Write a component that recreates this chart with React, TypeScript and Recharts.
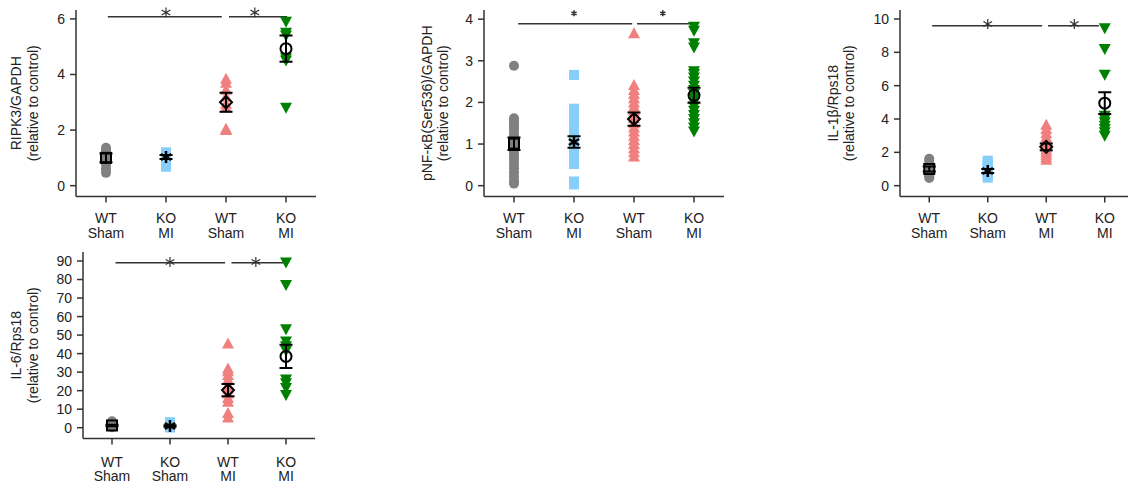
import React from "react"
import {
  ScatterChart,
  Scatter,
  XAxis,
  YAxis,
  ReferenceLine,
  ReferenceDot,
} from "recharts"

const FONT = "'Liberation Sans', Arial, sans-serif"
const INK = "#222"
const AXIS = "#333"

const GRAY  = "#808080"
const BLUE  = "#87CEFA"
const PINK  = "#F08080"
const GREEN = "#008000"

// ---------- RIPK3/GAPDH ----------
const ripk3Labels = [["WT", "Sham"], ["KO", "MI"], ["WT", "Sham"], ["KO", "MI"]]
const ripk3G1 = [1.36, 1.3, 1.2, 1.1, 1.0, 0.9, 0.75, 0.6, 0.46]
const ripk3G2 = [1.2, 1.12, 1.05, 1.0, 0.9, 0.8, 0.68]
const ripk3G3 = [3.85, 3.7, 3.45, 3.2, 2.95, 2.8, 2.05, 2.0]
const ripk3G4 = [5.9, 5.5, 5.4, 4.6, 4.5, 2.8]
const ripk3Mean = [1.0, 1.03, 3.0, 4.93]
const ripk3Sem  = [0.16, 0.07, 0.34, 0.47]
const ripk3Ticks = [0, 2, 4, 6]
const ripk3Sig = { y: 6.08, star: 6.23, a: [1.03, 2.93], b: [3.05, 4.02] }

// ---------- pNF-kB(Ser536)/GAPDH ----------
const nfkbLabels = [["WT", "Sham"], ["KO", "MI"], ["WT", "Sham"], ["KO", "MI"]]
const nfkbG1 = [2.88, 1.62, 1.55, 1.5, 1.42, 1.35, 1.25, 1.18, 1.1, 1.02, 0.95, 0.9, 0.82, 0.75, 0.68, 0.6, 0.5, 0.42, 0.32, 0.22, 0.12, 0.05]
const nfkbG2 = [2.66, 1.85, 1.78, 1.7, 1.62, 1.55, 1.48, 1.4, 1.3, 1.22, 1.12, 1.05, 0.98, 0.9, 0.82, 0.72, 0.62, 0.52, 0.1, 0.03]
const nfkbG3 = [3.66, 2.42, 2.3, 2.2, 2.1, 2.0, 1.9, 1.8, 1.7, 1.62, 1.5, 1.4, 1.3, 1.2, 1.1, 1.0, 0.9, 0.8, 0.7]
const nfkbG4 = [3.82, 3.72, 3.42, 3.32, 2.75, 2.68, 2.6, 2.5, 2.4, 2.3, 2.2, 2.1, 2.0, 1.9, 1.8, 1.7, 1.6, 1.5, 1.4, 1.3]
const nfkbMean = [1.01, 1.05, 1.6, 2.17]
const nfkbSem  = [0.15, 0.14, 0.16, 0.18]
const nfkbTicks = [0, 1, 2, 3, 4]
const nfkbSig = { y: 3.89, star: 4.14, a: [1.07, 2.97], b: [3.05, 3.93] }

// ---------- IL-1β/Rps18 ----------
const il1bLabels = [["WT", "Sham"], ["KO", "Sham"], ["WT", "MI"], ["KO", "MI"]]
const il1bG1 = [1.62, 1.5, 1.35, 1.2, 1.05, 0.95, 0.85, 0.75, 0.65, 0.55, 0.46]
const il1bG2 = [1.5, 1.4, 1.3, 1.2, 1.1, 1.0, 0.9, 0.8, 0.7, 0.6, 0.48]
const il1bG3 = [3.65, 3.4, 3.15, 2.9, 2.7, 2.5, 2.3, 2.15, 2.0, 1.85, 1.7, 1.55]
const il1bG4 = [9.45, 8.2, 6.65, 4.2, 4.0, 3.8, 3.6, 3.4, 3.2, 3.0]
const il1bMean = [1.0, 0.88, 2.33, 4.95]
const il1bSem  = [0.15, 0.12, 0.2, 0.65]
const il1bTicks = [0, 2, 4, 6, 8, 10]
const il1bSig = { y: 9.6, star: 9.7, a: [1.05, 2.93], b: [3.03, 3.9] }

// ---------- IL-6/Rps18 ----------
const il6Labels = [["WT", "Sham"], ["KO", "Sham"], ["WT", "MI"], ["KO", "MI"]]
const il6G1 = [3.5, 3.0, 2.4, 1.8, 1.2, 0.8, 0.5, 0.2]
const il6G2 = [3.0, 2.4, 1.8, 1.2, 0.8, 0.4, 0.1]
const il6G3 = [45.5, 32, 30.5, 28.5, 26, 23, 21, 18.5, 16, 14, 8, 5.5]
const il6G4 = [89.2, 77.1, 53.2, 46.5, 44, 41.5, 26, 24, 21.5, 17.7]
const il6Mean = [1.2, 0.9, 20.3, 38.5]
const il6Sem  = [0.45, 0.4, 3.3, 6.3]
const il6Ticks = [0, 10, 20, 30, 40, 50, 60, 70, 80, 90]
const il6Sig = { y: 89.1, star: 89.5, a: [1.06, 2.95], b: [3.06, 3.98] }

// ---------- point shapes ----------
const dot = (fill: string) => (p: any) => <circle cx={p.cx} cy={p.cy} r={5} fill={fill} />
const box = (fill: string) => (p: any) => (
  <rect x={p.cx - 5} y={p.cy - 5} width={10} height={10} fill={fill} />
)
const triUp = (fill: string) => (p: any) => (
  <polygon points={`${p.cx},${p.cy - 6} ${p.cx + 6},${p.cy + 5} ${p.cx - 6},${p.cy + 5}`} fill={fill} />
)
const triDown = (fill: string) => (p: any) => (
  <polygon points={`${p.cx - 6},${p.cy - 5} ${p.cx + 6},${p.cy - 5} ${p.cx},${p.cy + 6}`} fill={fill} />
)

function spokes(cx: number, cy: number, r: number) {
  const d: string[] = []
  for (const deg of [90, 30, -30]) {
    const a = (deg * Math.PI) / 180
    const dx = r * Math.cos(a)
    const dy = r * Math.sin(a)
    d.push(`M${cx - dx},${cy - dy}L${cx + dx},${cy + dy}`)
  }
  return d.join("")
}

const meanBox = (p: any) => (
  <rect x={p.cx - 5} y={p.cy - 5} width={10} height={10} fill="none" stroke="#000" strokeWidth={2} />
)
const meanStar = (p: any) => <path d={spokes(p.cx, p.cy, 6)} stroke="#000" strokeWidth={2.5} fill="none" />
const meanDiamond = (p: any) => (
  <polygon
    points={`${p.cx},${p.cy - 6} ${p.cx + 6},${p.cy} ${p.cx},${p.cy + 6} ${p.cx - 6},${p.cy}`}
    fill="none"
    stroke="#000"
    strokeWidth={2}
  />
)
const meanCircle = (p: any) => <circle cx={p.cx} cy={p.cy} r={5.5} fill="none" stroke="#000" strokeWidth={2} />
// whisker cap at each end of the SEM bar
const cap = (p: any) => (
  <line x1={p.cx - 6.5} x2={p.cx + 6.5} y1={p.cy} y2={p.cy} stroke="#000" strokeWidth={2} />
)

const pointShapes = [dot(GRAY), box(BLUE), triUp(PINK), triDown(GREEN)]
const meanShapes = [meanBox, meanStar, meanDiamond, meanCircle]

function GroupTick({ x, y, payload, labels, dy }: any) {
  const pair = labels[payload.value - 1] ?? ["", ""]
  return (
    <text x={x} textAnchor="middle" fill={INK} fontSize={14} fontFamily={FONT}>
      <tspan x={x} y={y + dy[0]}>{pair[0]}</tspan>
      <tspan x={x} y={y + dy[1]}>{pair[1]}</tspan>
    </text>
  )
}

function YTitle({ viewBox, lines, offs }: any) {
  const axisX = viewBox.x + viewBox.width
  const cy = viewBox.y + viewBox.height / 2
  return (
    <g>
      {lines.map((t: string, i: number) => {
        const cx = axisX + offs[i]
        return (
          <text
            key={i}
            x={cx}
            y={cy}
            transform={`rotate(-90 ${cx} ${cy})`}
            textAnchor="middle"
            dominantBaseline="central"
            fill={INK}
            fontSize={14}
            fontFamily={FONT}
          >
            {t}
          </text>
        )
      })}
    </g>
  )
}

function Panel(props: any) {
  const {
    left, top, width, height, margin, xAxisHeight,
    groups, means, sems, labels, yDomain, yTicks, sig,
    title, titleOffs, tickDy, starR, starW,
  } = props

  const star = (p: any) => (
    <path d={spokes(p.cx, p.cy, starR)} stroke={AXIS} strokeWidth={starW} fill="none" />
  )

  return (
    <div style={{ position: "absolute", left, top }}>
      <ScatterChart width={width} height={height} margin={margin} style={{ fontFamily: FONT }}>
        <XAxis
          type="number"
          dataKey="x"
          domain={[0.5, 4.5]}
          ticks={[1, 2, 3, 4]}
          interval={0}
          allowDataOverflow
          height={xAxisHeight}
          tickSize={6}
          axisLine={{ stroke: AXIS, strokeWidth: 1.5 }}
          tickLine={{ stroke: AXIS, strokeWidth: 1.5 }}
          tick={(p: any) => <GroupTick {...p} labels={labels} dy={tickDy} />}
        />
        <YAxis
          type="number"
          dataKey="y"
          domain={yDomain}
          ticks={yTicks}
          interval={0}
          allowDataOverflow
          width={40}
          tickSize={6}
          tickMargin={5}
          axisLine={{ stroke: AXIS, strokeWidth: 1.5 }}
          tickLine={{ stroke: AXIS, strokeWidth: 1.5 }}
          tick={{ fill: INK, fontSize: 14, fontFamily: FONT }}
          label={<YTitle lines={title} offs={titleOffs} />}
        />

        {groups.map((vals: number[], i: number) => (
          <Scatter
            key={`g${i}`}
            data={vals.map((v) => ({ x: i + 1, y: v }))}
            shape={pointShapes[i]}
            isAnimationActive={false}
          />
        ))}

        {means.map((m: number, i: number) => (
          <Scatter
            key={`e${i}`}
            data={[{ x: i + 1, y: m - sems[i] }, { x: i + 1, y: m + sems[i] }]}
            line={{ stroke: "#000", strokeWidth: 2 }}
            shape={cap}
            isAnimationActive={false}
          />
        ))}

        {means.map((m: number, i: number) => (
          <Scatter
            key={`m${i}`}
            data={[{ x: i + 1, y: m }]}
            shape={meanShapes[i]}
            isAnimationActive={false}
          />
        ))}

        <ReferenceLine
          segment={[{ x: sig.a[0], y: sig.y }, { x: sig.a[1], y: sig.y }]}
          stroke={AXIS}
          strokeWidth={1.5}
          ifOverflow="visible"
        />
        <ReferenceLine
          segment={[{ x: sig.b[0], y: sig.y }, { x: sig.b[1], y: sig.y }]}
          stroke={AXIS}
          strokeWidth={1.5}
          ifOverflow="visible"
        />
        <ReferenceDot x={2} y={sig.star} r={0} shape={star} ifOverflow="visible" />
        <ReferenceDot x={3.48} y={sig.star} r={0} shape={star} ifOverflow="visible" />
      </ScatterChart>
    </div>
  )
}

export default function App() {
  return (
    <div
      style={{
        position: "absolute",
        left: 0,
        top: 0,
        width: 1128,
        height: 487,
        overflow: "hidden",
        background: "#fff",
      }}
    >
      <Panel
        left={0} top={0} width={340} height={245}
        margin={{ top: 10, right: 24, bottom: 0, left: 36 }}
        xAxisHeight={48.5}
        groups={[ripk3G1, ripk3G2, ripk3G3, ripk3G4]}
        means={ripk3Mean} sems={ripk3Sem}
        labels={ripk3Labels}
        yDomain={[-0.39, 6.32]} yTicks={ripk3Ticks}
        sig={ripk3Sig}
        title={["RIPK3/GAPDH", "(relative to control)"]}
        titleOffs={[-60.5, -43.5]}
        tickDy={[18, 33]}
        starR={5} starW={1.2}
      />
      <Panel
        left={380} top={0} width={350} height={245}
        margin={{ top: 10, right: 6, bottom: 0, left: 64 }}
        xAxisHeight={48.5}
        groups={[nfkbG1, nfkbG2, nfkbG3, nfkbG4]}
        means={nfkbMean} sems={nfkbSem}
        labels={nfkbLabels}
        yDomain={[-0.26, 4.22]} yTicks={nfkbTicks}
        sig={nfkbSig}
        title={["pNF-κB(Ser536)/GAPDH", "(relative to control)"]}
        titleOffs={[-57, -41]}
        tickDy={[18, 33]}
        starR={3} starW={1.6}
      />
      <Panel
        left={780} top={0} width={354} height={245}
        margin={{ top: 10, right: 0, bottom: 0, left: 80 }}
        xAxisHeight={48.5}
        groups={[il1bG1, il1bG2, il1bG3, il1bG4]}
        means={il1bMean} sems={il1bSem}
        labels={il1bLabels}
        yDomain={[-0.65, 10.54]} yTicks={il1bTicks}
        sig={il1bSig}
        title={["IL-1β/Rps18", "(relative to control)"]}
        titleOffs={[-67.5, -51]}
        tickDy={[18, 33]}
        starR={5} starW={1.2}
      />
      <Panel
        left={0} top={240} width={340} height={247}
        margin={{ top: 12, right: 25, bottom: 0, left: 43 }}
        xAxisHeight={48.5}
        groups={[il6G1, il6G2, il6G3, il6G4]}
        means={il6Mean} sems={il6Sem}
        labels={il6Labels}
        yDomain={[-5.83, 94.86]} yTicks={il6Ticks}
        sig={il6Sig}
        title={["IL-6/Rps18", "(relative to control)"]}
        titleOffs={[-67, -50.5]}
        tickDy={[20, 34]}
        starR={5} starW={1.2}
      />
    </div>
  )
}
